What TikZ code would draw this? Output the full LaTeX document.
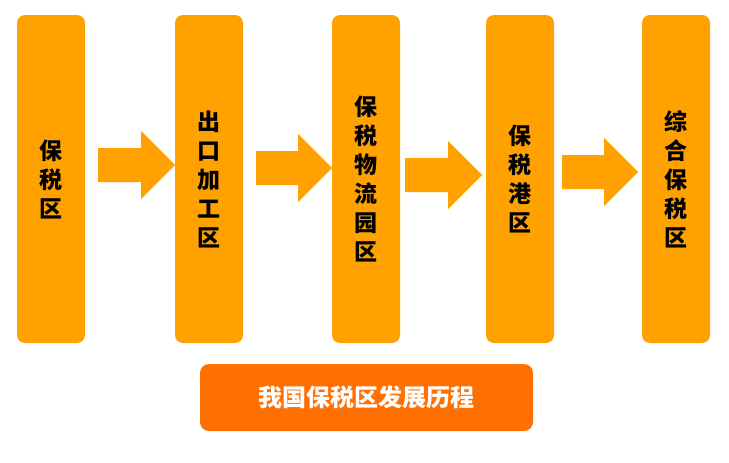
\documentclass[tikz,border=0pt]{standalone}
\usepackage{fontspec}
\newfontfamily\cjk{Noto Sans CJK SC}
\usetikzlibrary{positioning}
\definecolor{zoneorange}{RGB}{255,162,0}
\definecolor{titleorange}{RGB}{255,112,0}
\tikzset{
	zone/.style={fill=zoneorange, rounded corners=8pt, minimum width=68pt, minimum height=328pt, inner sep=0pt, align=center, font=\cjk\bfseries\fontsize{23}{29}\selectfont},
	headline/.style={fill=titleorange, rounded corners=9pt, minimum width=333pt, minimum height=67pt, inner sep=0pt, text=white, font=\cjk\bfseries\fontsize{24}{28}\selectfont},
	arrowfill/.style={fill=zoneorange}
}

\begin{document}
\begin{tikzpicture}[x=1pt,y=-1pt]
			\useasboundingbox (0,0) rectangle (729,463);
			\node[zone] (bsq) at (51,179) {保\\税\\区};
			\node[zone] (ckq) at (209,179) {出\\口\\加\\工\\区};
			\node[zone] (wlq) at (366,179) {保\\税\\物\\流\\园\\区};
			\node[zone] (gq) at (520,179) {保\\税\\港\\区};
			\node[zone] (zhq) at (676,179) {综\\合\\保\\税\\区};
			\node[headline] (title) at (366.5,397.5) {我国保税区发展历程};
% 			arrows: tail x / tip x / middle y
			\foreach \xa/\xb/\ym in {98/175/165, 256/332/168, 405/482/175, 562/638/172}
			\fill[arrowfill] (\xa,\ym-17) -- (\xb-34,\ym-17) -- (\xb-34,\ym-34) -- (\xb,\ym) -- (\xb-34,\ym+34) -- (\xb-34,\ym+17) -- (\xa,\ym+17) -- cycle;
\end{tikzpicture}
\end{document}
